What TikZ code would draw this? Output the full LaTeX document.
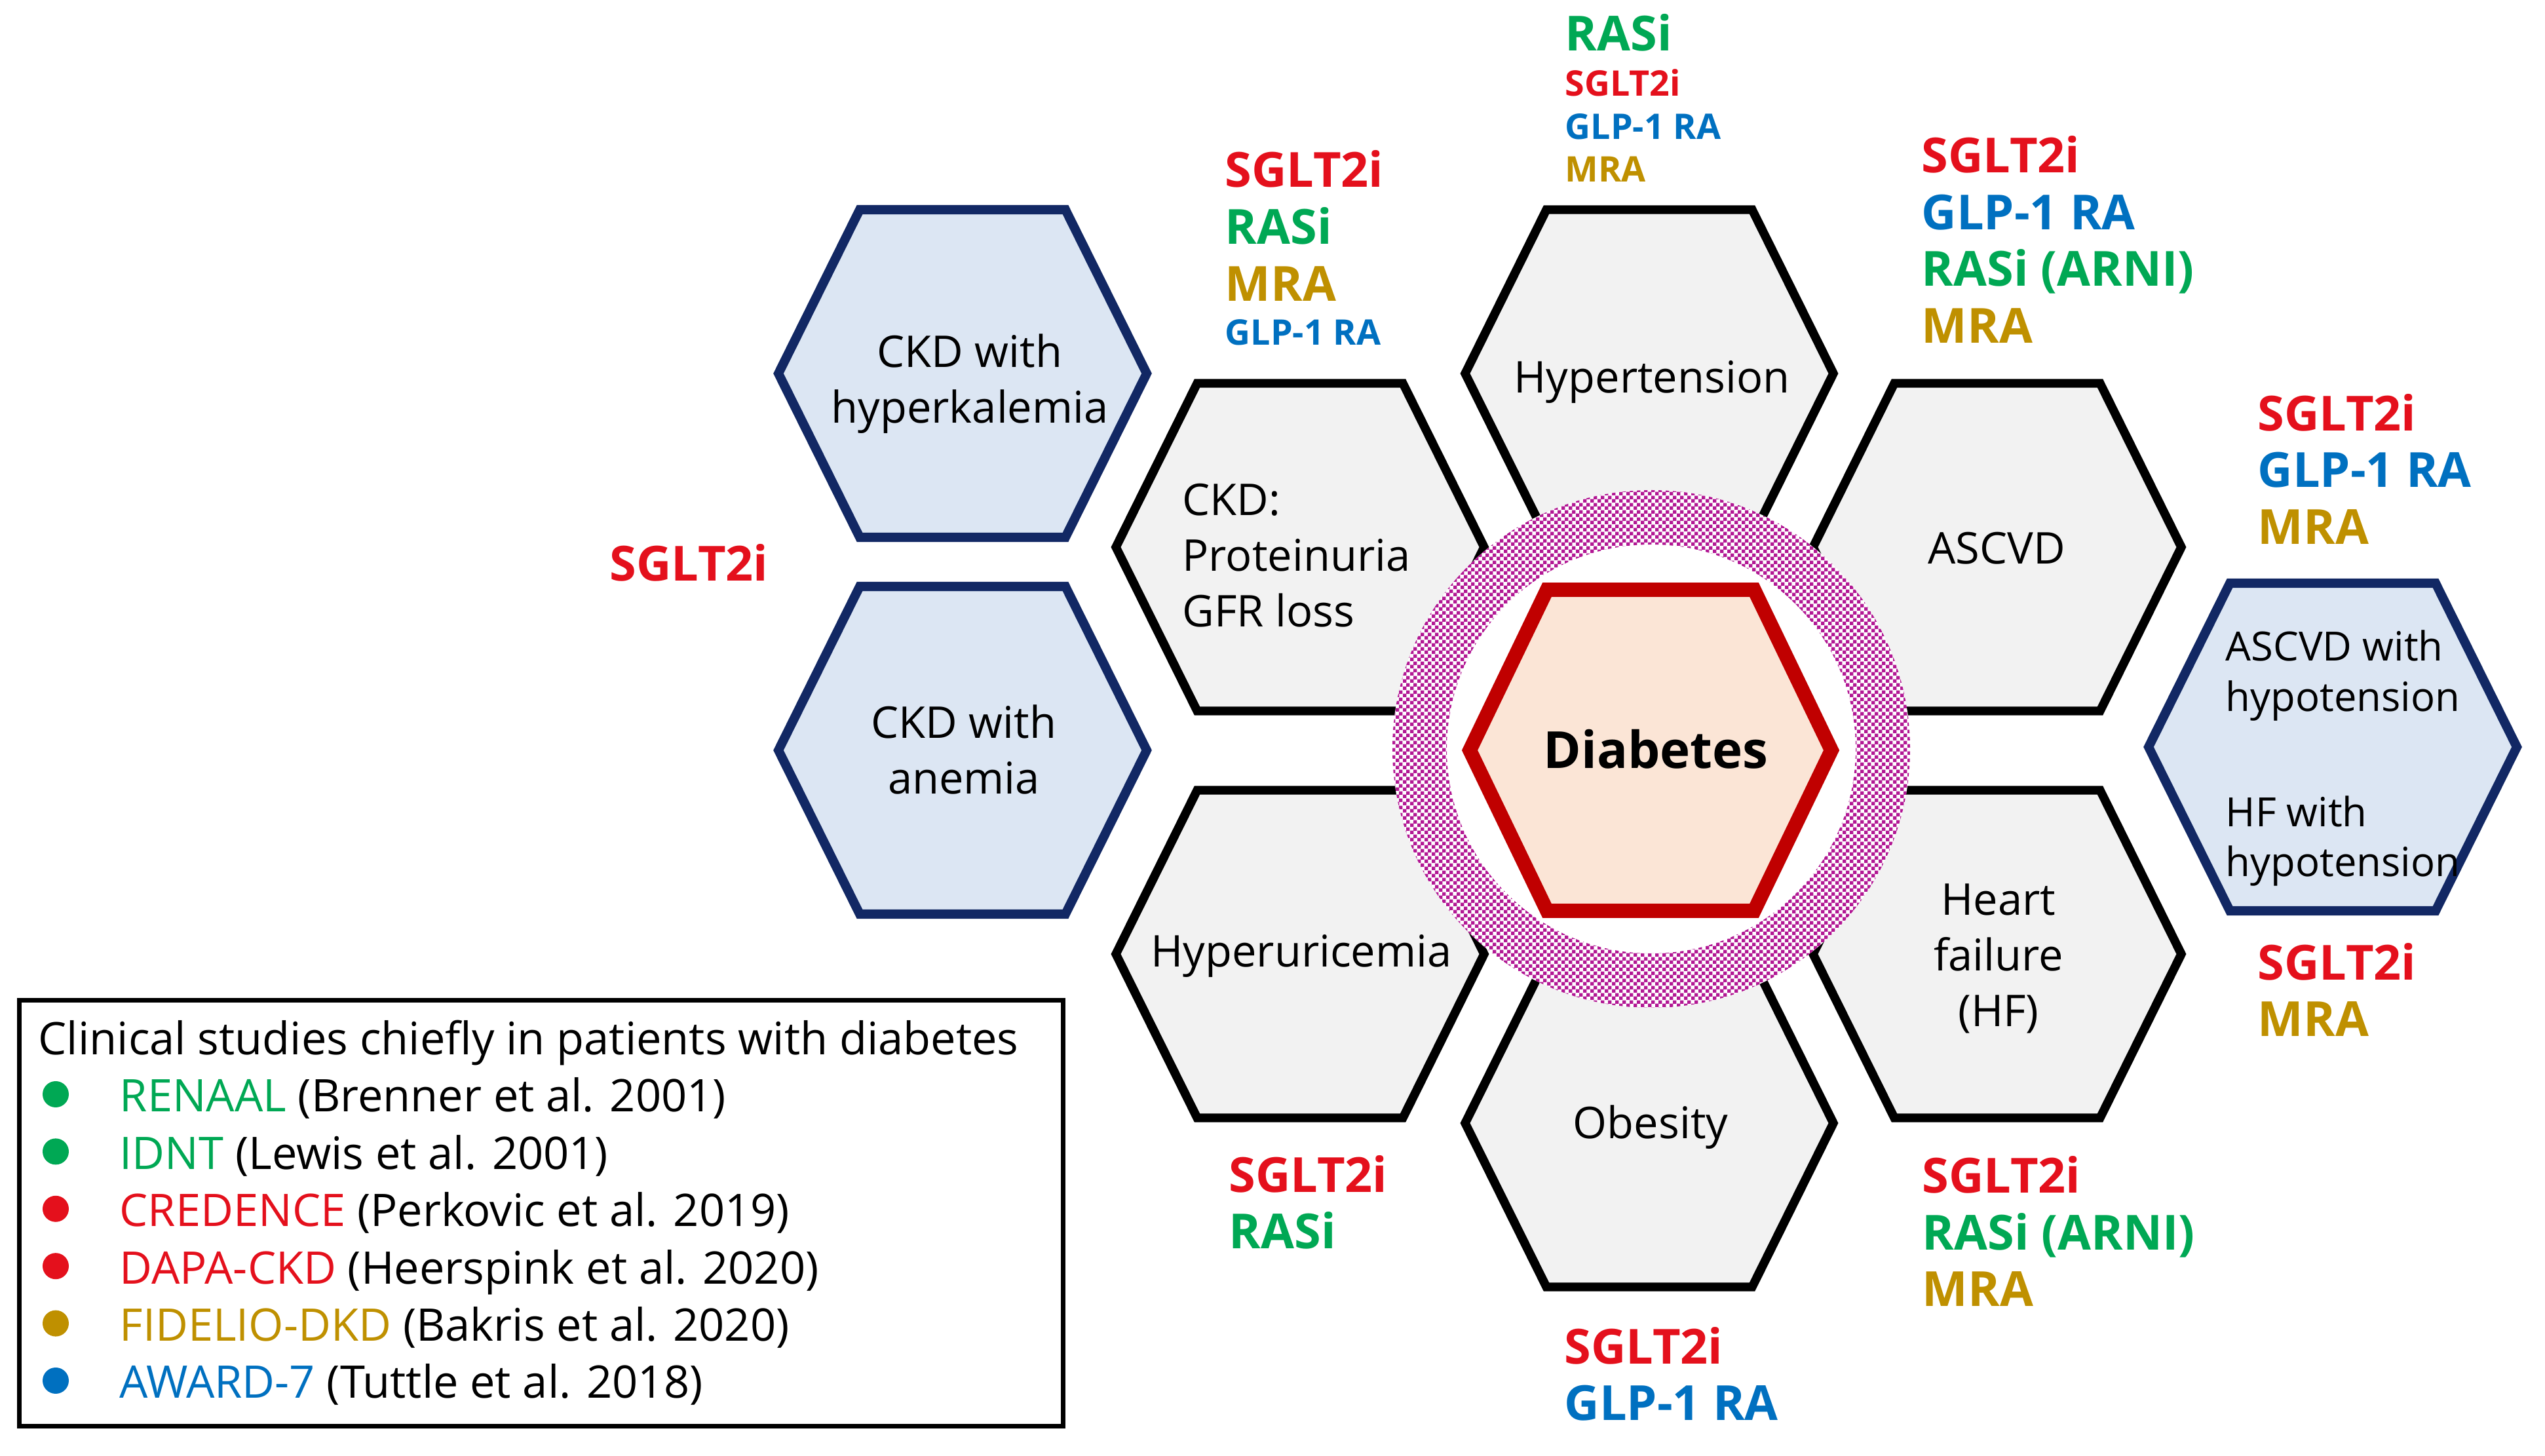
\documentclass[tikz,border=0pt]{standalone}
\usepackage{fontspec}
\setmainfont{Open Sans}
\usetikzlibrary{patterns}

\definecolor{drred}{RGB}{228,16,28}
\definecolor{drgreen}{RGB}{0,168,84}
\definecolor{drblue}{RGB}{0,112,192}
\definecolor{drgold}{RGB}{191,144,0}
\definecolor{hexgrey}{RGB}{242,242,242}
\definecolor{hexblue}{RGB}{220,230,243}
\definecolor{navy}{RGB}{18,40,100}
\definecolor{diafill}{RGB}{251,229,214}
\definecolor{diared}{RGB}{192,0,0}
\definecolor{ringmag}{RGB}{178,24,148}

% checker dots for the ring
\pgfdeclarepatternformonly{ringdots}{\pgfqpoint{0pt}{0pt}}{\pgfqpoint{3pt}{3pt}}{\pgfqpoint{3pt}{3pt}}{%
  \pgfpathrectangle{\pgfqpoint{0pt}{0pt}}{\pgfqpoint{1.6pt}{1.6pt}}%
  \pgfpathrectangle{\pgfqpoint{1.5pt}{1.5pt}}{\pgfqpoint{1.6pt}{1.6pt}}%
  \pgfusepath{fill}}

\tikzset{
  greyhex/.style={draw=black,fill=hexgrey,line width=3.8pt},
  bluehex/.style={draw=navy,fill=hexblue,line width=4pt},
  diahex/.style={draw=diared,fill=diafill,line width=6.2pt},
  hexlabel/.style={font=\fontsize{19}{24.2}\selectfont,align=center,inner sep=0pt,anchor=base},
  druglabel/.style={font=\bfseries\fontsize{21}{24.75}\selectfont,align=left,inner sep=0pt,anchor=base west},
  smalldrug/.style={font=\bfseries\fontsize{15.3}{18.7}\selectfont},
  legtext/.style={font=\fontsize{19.5}{24}\selectfont,inner sep=0pt,anchor=base west},
  legdot/.style={circle,inner sep=0pt,minimum size=0.4cm}
}

\begin{document}
\begin{tikzpicture}
  \useasboundingbox (0,0) rectangle (38.84,22.22);

  % hexagon centres
  \coordinate (dia) at (25.19,10.77);
  \coordinate (htn) at (25.17,16.52);
  \coordinate (ckd) at (19.84,13.87);
  \coordinate (ascvd) at (30.48,13.87);
  \coordinate (uric) at (19.84,7.66);
  \coordinate (hf) at (30.48,7.66);
  \coordinate (obes) at (25.17,5.08);
  \coordinate (hyperk) at (14.69,16.52);
  \coordinate (anem) at (14.69,10.77);
  \coordinate (hypot) at (35.60,10.82);
  \coordinate (ring) at (25.20,10.79);

  \foreach \c in {htn,ckd,ascvd,uric,hf,obes}
    \draw[greyhex] (\c) ++(-2.81,0) -- ++(1.24,2.5) -- ++(3.14,0) -- ++(1.24,-2.5) -- ++(-1.24,-2.5) -- ++(-3.14,0) -- cycle;
  \foreach \c in {hyperk,anem,hypot}
    \draw[bluehex] (\c) ++(-2.81,0) -- ++(1.24,2.5) -- ++(3.14,0) -- ++(1.24,-2.5) -- ++(-1.24,-2.5) -- ++(-3.14,0) -- cycle;

  % ring round diabetes
  \fill[white] (ring) circle (3.95);
  \fill[pattern=ringdots,pattern color=ringmag,even odd rule] (ring) circle (3.95) (ring) circle (3.12);
  \draw[diahex] (dia) ++(-2.76,0) -- ++(1.18,2.45) -- ++(3.16,0) -- ++(1.18,-2.45) -- ++(-1.18,-2.45) -- ++(-3.16,0) -- cycle;

  % hexagon texts (base = last line)
  \node[hexlabel,font=\bfseries\fontsize{22.2}{26}\selectfont] (dialabel) at (25.27,10.49) {Diabetes};
  \node[hexlabel] (htnlabel) at (25.21,16.22) {Hypertension};
  \node[hexlabel] (ascvdlabel) at (30.47,13.61) {ASCVD};
  \node[hexlabel] (uriclabel) at (19.86,7.46) {Hyperuricemia};
  \node[hexlabel] (obeslabel) at (25.19,4.84) {Obesity};
  \node[hexlabel] (hflabel) at (30.50,6.55) {Heart\\failure\\(HF)};
  \node[hexlabel] (hyperklabel) at (14.80,15.76) {CKD with\\hyperkalemia};
  \node[hexlabel] (anemlabel) at (14.71,10.10) {CKD with\\anemia};
  \node[hexlabel,align=left,anchor=base west] (ckdlabel) at (18.04,12.65) {CKD:\\Proteinuria\\GFR loss};
  \node[hexlabel,align=left,anchor=base west,font=\fontsize{17.5}{21.9}\selectfont] (hypotlabel) at (33.96,8.84)
    {ASCVD with\\hypotension\\[28pt]HF with\\hypotension};

  % drug classes
  \node[druglabel,smalldrug] (htndrugs) at (23.88,19.44)
    {{\fontsize{21}{21}\selectfont\textcolor{drgreen}{RASi}}\\[1pt]\textcolor{drred}{SGLT2i}\\\textcolor{drblue}{GLP-1 RA}\\\textcolor{drgold}{MRA}};
  \node[druglabel] (ckddrugs) at (18.69,16.95)
    {\textcolor{drred}{SGLT2i}\\\textcolor{drgreen}{RASi}\\\textcolor{drgold}{MRA}\\[-5.5pt]{\fontsize{15.3}{15.3}\selectfont\textcolor{drblue}{GLP-1 RA}}};
  \node[druglabel] (ascvddrugs) at (29.32,16.98)
    {\textcolor{drred}{SGLT2i}\\\textcolor{drblue}{GLP-1 RA}\\\textcolor{drgreen}{RASi (ARNI)}\\\textcolor{drgold}{MRA}};
  \node[druglabel] (hypotdrugs) at (34.45,13.91)
    {\textcolor{drred}{SGLT2i}\\\textcolor{drblue}{GLP-1 RA}\\\textcolor{drgold}{MRA}};
  \node[druglabel] (hfhypdrugs) at (34.45,6.40)
    {\textcolor{drred}{SGLT2i}\\\textcolor{drgold}{MRA}};
  \node[druglabel] (anemdrugs) at (9.30,13.35) {\textcolor{drred}{SGLT2i}};
  \node[druglabel] (uricdrugs) at (18.75,3.16)
    {\textcolor{drred}{SGLT2i}\\\textcolor{drgreen}{RASi}};
  \node[druglabel] (hfdrugs) at (29.33,2.28)
    {\textcolor{drred}{SGLT2i}\\\textcolor{drgreen}{RASi (ARNI)}\\\textcolor{drgold}{MRA}};
  \node[druglabel] (obesdrugs) at (23.87,0.54)
    {\textcolor{drred}{SGLT2i}\\\textcolor{drblue}{GLP-1 RA}};

  % legend
  \node[draw,line width=2.2pt,minimum width=15.93cm,minimum height=6.50cm,inner sep=0pt] (legend) at (8.26,3.705) {};
  \node[legtext] (legtitle) at (0.58,6.12) {Clinical studies chiefly in patients with diabetes};
  \foreach \study/\col/\refs [count=\i from 0] in {RENAAL/drgreen/Brenner et al. 2001,IDNT/drgreen/Lewis et al. 2001,
      CREDENCE/drred/Perkovic et al. 2019,DAPA-CKD/drred/Heerspink et al. 2020,
      FIDELIO-DKD/drgold/Bakris et al. 2020,AWARD-7/drblue/Tuttle et al. 2018} {
    \node[legdot,fill=\col] (dot\i) at (0.85,{5.52-0.874*\i}) {};
    \node[legtext] (study\i) at (1.82,{5.25-0.874*\i}) {\textcolor{\col}{\study} (\refs)};
  }
\end{tikzpicture}
\end{document}
